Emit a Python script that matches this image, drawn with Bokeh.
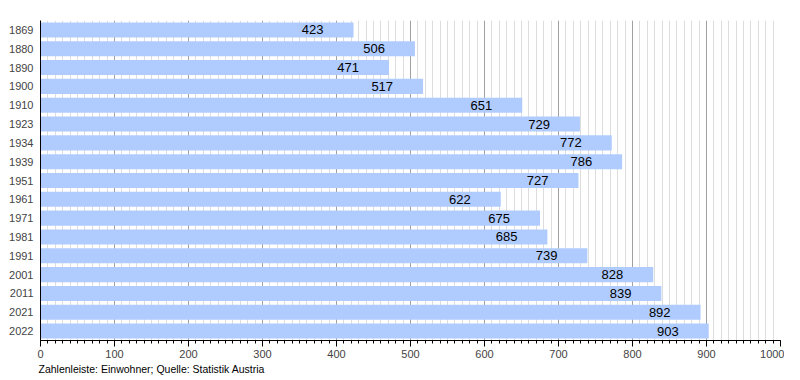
from bokeh.plotting import figure
from bokeh.models import FactorRange, Title, ColumnDataSource, FixedTicker
from bokeh.core.properties import value
from bokeh.embed import file_html
from bokeh.resources import INLINE

years = ["1869", "1880", "1890", "1900", "1910", "1923", "1934", "1939", "1951",
         "1961", "1971", "1981", "1991", "2001", "2011", "2021", "2022"]
population = [423, 506, 471, 517, 651, 729, 772, 786, 727, 622, 675, 685, 739, 828, 839, 892, 903]
x_ticks = list(range(0, 1001, 100))
x_minor = list(range(0, 1001, 10))
caption = "Zahlenleiste: Einwohner; Quelle: Statistik Austria"

src = ColumnDataSource(dict(year=years, pop=population, lbl=[str(v) for v in population]))

p = figure(width=784, height=376, output_backend="svg", toolbar_location=None,
           y_range=FactorRange(*reversed(years), range_padding=0),
           x_range=(0, 1000),
           min_border_left=40, min_border_right=4, min_border_top=20, min_border_bottom=36)
p.outline_line_color = None
p.background_fill_color = "white"

p.hbar(y="year", right="pop", left=0, height=0.8, source=src, color="#b0ccff", line_color=None)
p.text(x="pop", y="year", text="lbl", source=src, text_align="right", text_baseline="middle",
       x_offset=-30, text_font=value("Liberation Sans"), text_font_size="13px", text_color="black")

p.xaxis.ticker = FixedTicker(ticks=x_ticks, minor_ticks=x_minor)
p.xaxis.axis_line_color = "black"
p.xaxis.major_tick_line_color = "black"
p.xaxis.minor_tick_line_color = "black"
p.xaxis.major_tick_out = 6
p.xaxis.major_tick_in = 0
p.xaxis.minor_tick_out = 3
p.xaxis.minor_tick_in = 0
p.xaxis.major_label_text_font = "Liberation Sans"
p.xaxis.major_label_text_font_size = "11px"
p.xaxis.major_label_standoff = 3

p.yaxis.axis_line_color = "black"
p.yaxis.major_tick_line_color = None
p.yaxis.minor_tick_line_color = None
p.yaxis.major_tick_out = 0
p.yaxis.major_tick_in = 0
p.yaxis.minor_tick_out = 0
p.yaxis.major_label_text_font = "Liberation Sans"
p.yaxis.major_label_text_font_size = "11px"
p.yaxis.major_label_standoff = 7

p.ygrid.grid_line_color = None
p.xgrid.grid_line_color = "#a0a0a0"
p.xgrid.minor_grid_line_color = "#dddddd"
p.xgrid.level = "underlay"

p.add_layout(Title(text=caption, align="left", text_font="Liberation Sans",
                   text_font_size="10.5px", text_font_style="normal", text_color="black",
                   standoff=0, offset=-2), "below")

open("out.html", "w").write(file_html(p, INLINE))
